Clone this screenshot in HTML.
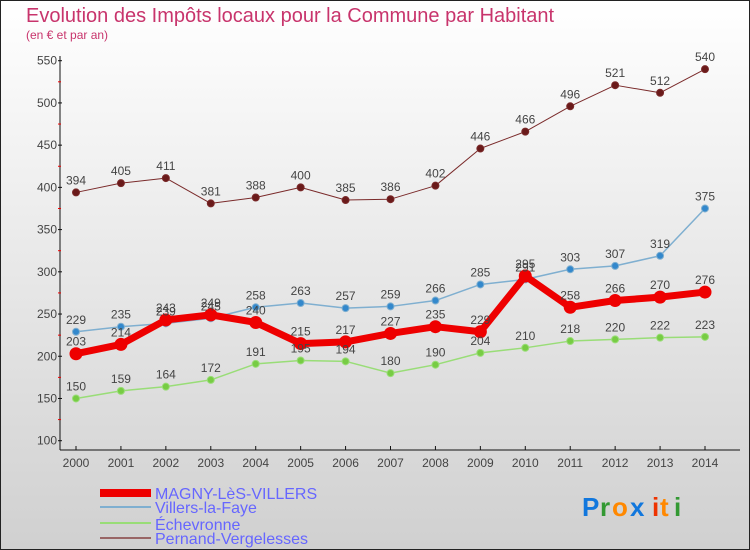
<!DOCTYPE html>
<html><head><meta charset="utf-8"><style>
body{margin:0;width:750px;height:550px;overflow:hidden}
svg{display:block;font-family:"Liberation Sans",sans-serif}
</style></head><body>
<svg width="750" height="550">
<defs><linearGradient id="bg" x1="0" y1="0" x2="0" y2="1"><stop offset="0" stop-color="#ffffff"/><stop offset="1" stop-color="#d0d0d0"/></linearGradient></defs>
<rect x="0.5" y="0.5" width="749" height="549" fill="url(#bg)" stroke="#222"/>
<text x="26" y="22" font-size="20" fill="#c8346c">Evolution des Impôts locaux pour la Commune par Habitant</text>
<text x="26" y="39" font-size="12" fill="#c8346c">(en € et par an)</text>
<g id="axes"></g>
<g id="series"></g>
<g id="labels"></g>
<g>
<rect x="100" y="489" width="51" height="8" fill="#ee0000"/>
<text x="155" y="499" font-size="16" fill="#6666ff">MAGNY-LèS-VILLERS</text>
<rect x="100" y="506" width="51" height="2" fill="#7fafd0"/>
<text x="155" y="513" font-size="16" fill="#6666ff">Villers-la-Faye</text>
<rect x="100" y="522" width="51" height="2" fill="#99dd77"/>
<text x="155" y="530" font-size="16" fill="#6666ff">Échevronne</text>
<rect x="100" y="537" width="51" height="2" fill="#996666"/>
<text x="155" y="544" font-size="16" fill="#6666ff">Pernand-Vergelesses</text>
</g>
<g font-size="26" font-weight="bold">
<text x="582" y="516" fill="#1177dd">P</text><text x="600" y="516" fill="#339933">r</text><text x="612" y="516" fill="#ff8800">o</text><text x="630" y="516" fill="#1177dd">x</text><text x="652" y="516" fill="#ee3300">i</text><text x="660" y="516" fill="#ff8800">t</text><text x="674" y="516" fill="#339933">i</text>
</g>
</svg>
<script>
const years=[2000,2001,2002,2003,2004,2005,2006,2007,2008,2009,2010,2011,2012,2013,2014];
const yTicks=[100,150,200,250,300,350,400,450,500,550];
const magny=[203,214,243,249,240,215,217,227,235,229,295,258,266,270,276];
const villers=[229,235,239,245,258,263,257,259,266,285,291,303,307,319,375];
const echevronne=[150,159,164,172,191,195,194,180,190,204,210,218,220,222,223];
const pernand=[394,405,411,381,388,400,385,386,402,446,466,496,521,512,540];
const NS='http://www.w3.org/2000/svg';
const X=i=>76+i*(705-76)/14;
const Y=v=>440.7-(v-100)*(380/450);
function mk(tag,attrs,parent){const e=document.createElementNS(NS,tag);for(const k in attrs)e.setAttribute(k,attrs[k]);parent.appendChild(e);return e;}
const ax=document.getElementById('axes');
let yl=mk('line',{x1:60,y1:56,x2:60,y2:450,stroke:'#111','stroke-width':1},ax);


let xl=mk('line',{x1:60,y1:450,x2:740,y2:450,stroke:'#111','stroke-width':1},ax);


yTicks.forEach(t=>{
 mk('line',{x1:58,y1:Y(t),x2:62,y2:Y(t),stroke:'#111'},ax);
 if(t<550)mk('line',{x1:58,y1:Y(t+25),x2:61,y2:Y(t+25),stroke:'#e00'},ax);
 const tx=mk('text',{x:57,y:Y(t)+4,'font-size':12,'text-anchor':'end',fill:'#444'},ax);
 tx.textContent=t;
 
 
});
years.forEach((yr,i)=>{
 mk('line',{x1:X(i),y1:446,x2:X(i),y2:450,stroke:'#111'},ax);
 const tx=mk('text',{x:X(i),y:467,'font-size':12,'text-anchor':'middle',fill:'#444'},ax);
 tx.textContent=yr;
 
 
});
const sg=document.getElementById('series'),lg=document.getElementById('labels');
function series(vals,color,w,r,name,dot){
 const pts=vals.map((v,i)=>X(i)+','+Y(v)).join(' ');
 const pl=mk('polyline',{points:pts,fill:'none',stroke:color,'stroke-width':w,'stroke-linejoin':'round'},sg);
 
 
 vals.forEach((v,i)=>{
  const c=mk('circle',{cx:X(i),cy:Y(v),r:r,fill:dot,stroke:color,'stroke-width':1},sg);
  
  
  const t=mk('text',{x:X(i),y:Y(v)-8,'font-size':12,'text-anchor':'middle',fill:'#444'},lg);
  t.textContent=v;
  
  
 });
}
series(pernand,'#7a2a2a',1,3.5,'pernand','#6a1a1a');
series(echevronne,'#99dd77',1.5,3.5,'echevronne','#77cc44');
series(villers,'#7fafd0',1.5,3.5,'villers','#3388cc');
series(magny,'#ee0000',7,6,'magny','#ee0000');
</script>
</body></html>
